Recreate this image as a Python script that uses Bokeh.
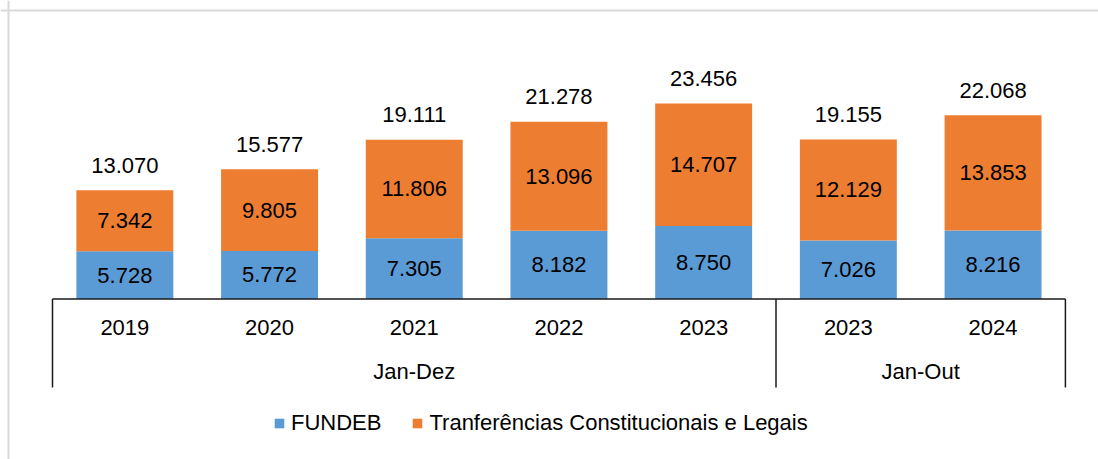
from bokeh.plotting import figure
from bokeh.models import ColumnDataSource, Range1d, Span, Legend, LegendItem
from bokeh.core.properties import value
from bokeh.embed import file_html
from bokeh.resources import INLINE
import numpy as np

# ---- data ----
years = ["2019", "2020", "2021", "2022", "2023", "2023", "2024"]
group_names = ["Jan-Dez", "Jan-Out"]
group_sizes = [5, 2]
fundeb = [5728, 5772, 7305, 8182, 8750, 7026, 8216]
transf = [7342, 9805, 11806, 13096, 14707, 12129, 13853]
totals = [13070, 15577, 19111, 21278, 23456, 19155, 22068]
series_names = ["FUNDEB", "Tranferências Constitucionais e Legais"]

# ---- layout ----
W, H = 1098, 459
FONT_NAME = "Liberation Sans"
FONT = value(FONT_NAME)
FS = "22px"
BLUE, ORANGE = "#5B9BD5", "#ED7D31"

cat_px = 144.7
left_sep_px = 52.0
base_from_top = 298.5
px_per_unit = 0.00833

x_start = -0.5 - left_sep_px / cat_px
x_end = x_start + W / cat_px
y_start = -(H - base_from_top) / px_per_unit
y_end = y_start + H / px_per_unit
UPX = 1 / px_per_unit  # data units per pixel (y)
XPX = 1 / cat_px       # data units per pixel (x)

def fmt(v):
    return f"{v:,}".replace(",", ".")

n = len(years)
xs = list(range(n))
src = ColumnDataSource(dict(
    x=xs, fundeb=fundeb, transf=transf, total=totals,
    f_mid=[f / 2 for f in fundeb],
    t_mid=[f + t / 2 for f, t in zip(fundeb, transf)],
    f_lab=[fmt(v) for v in fundeb],
    t_lab=[fmt(v) for v in transf],
    tot_lab=[fmt(v) for v in totals],
    year=years,
))

p = figure(width=W, height=H, output_backend="svg", toolbar_location=None,
           x_axis_location=None, y_axis_location=None,
           x_range=Range1d(x_start, x_end), y_range=Range1d(y_start, y_end),
           min_border=0, outline_line_color=None, background_fill_color="white")
p.xgrid.visible = False
p.ygrid.visible = False

rs = p.vbar_stack(["fundeb", "transf"], x="x", width=0.67, source=src,
                  color=[BLUE, ORANGE], line_color=None)

# labels
p.text(x="x", y="f_mid", text="f_lab", source=src, text_font=FONT, text_font_size=FS,
       text_align="center", text_baseline="middle", text_color="black")
p.text(x="x", y="t_mid", text="t_lab", source=src, text_font=FONT, text_font_size=FS,
       text_align="center", text_baseline="middle", text_color="black")
p.text(x="x", y="total", text="tot_lab", source=src, text_font=FONT, text_font_size=FS,
       text_align="center", text_baseline="middle", y_offset=-25, text_color="black")

# category axis (drawn)
ax_col = "#1a1a1a"
p.segment(x0=[-0.5], y0=[0], x1=[n - 0.5], y1=[0], line_color=ax_col, line_width=1.5)
bounds = [-0.5] + list(np.cumsum(group_sizes) - 0.5)
p.segment(x0=bounds, y0=[0] * len(bounds), x1=bounds, y1=[-88.5 * UPX] * len(bounds),
          line_color=ax_col, line_width=1.5)
p.text(x=xs, y=[0] * n, text=years, text_font=FONT, text_font_size=FS,
       text_align="center", text_baseline="middle", y_offset=28.5, text_color="black")
gcent = [(bounds[i] + bounds[i + 1]) / 2 for i in range(len(group_names))]
p.text(x=gcent, y=[0] * len(gcent), text=group_names, text_font=FONT, text_font_size=FS,
       text_align="center", text_baseline="middle", y_offset=72.5, text_color="black")

# chart-area border (left and top edges visible)
p.add_layout(Span(location=x_start + 8 * XPX, dimension="height",
                  line_color="#d9d9d9", line_width=2))
p.add_layout(Span(location=y_end - 10 * UPX, dimension="width",
                  line_color="#d9d9d9", line_width=2))

legend = Legend(items=[LegendItem(label=series_names[0], renderers=[rs[0]]),
                       LegendItem(label=series_names[1], renderers=[rs[1]])],
                orientation="horizontal", location=(273, 23), padding=0, margin=0,
                spacing=30, label_standoff=6, glyph_width=12, glyph_height=12,
                label_text_font=FONT_NAME, label_text_font_size=FS, label_text_color="black",
                border_line_color=None, background_fill_alpha=0)
p.add_layout(legend, "center")

open("out.html", "w").write(file_html(p, INLINE))
